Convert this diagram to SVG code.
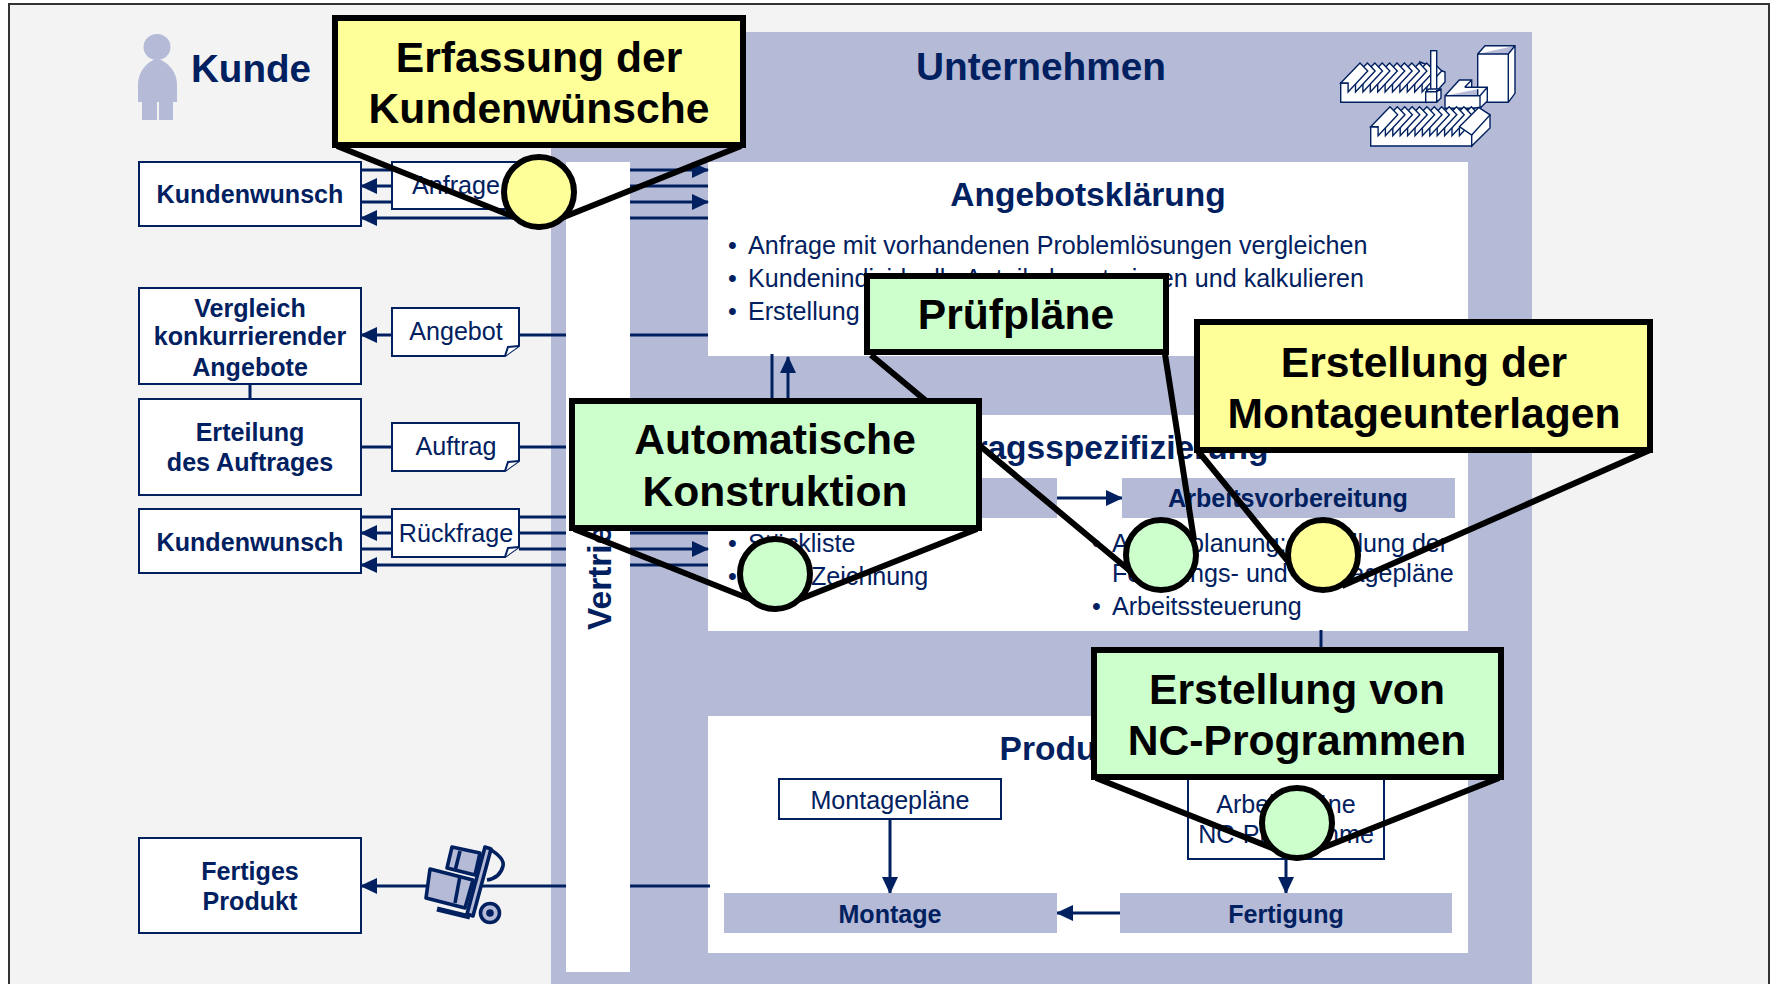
<svg xmlns="http://www.w3.org/2000/svg" width="1773" height="984" viewBox="0 0 1773 984">
<defs>
<marker id="ah" markerUnits="userSpaceOnUse" markerWidth="18" markerHeight="18" refX="16" refY="8" orient="auto"><path d="M0 0L17 8L0 16Z" fill="#002060"/></marker>
<path id="tooth" d="M0 0L19.3 -20L27 -12L7.4 9V0Z"/>
</defs>
<style>
text{font-family:"Liberation Sans",Arial,sans-serif;fill:#002060}
.b{font-weight:700}
.m{text-anchor:middle}
.t{font-size:25.1px}
.h{font-size:33.5px;font-weight:700}
.c{font-size:42.6px;font-weight:700;fill:#000;text-anchor:middle}
.box{fill:#fff;stroke:#002060;stroke-width:2}
.bar{fill:#b5bad6}
.wh{fill:#fff}
.ln{stroke:#002060;stroke-width:3;fill:none}
.ar{stroke:#002060;stroke-width:3;fill:none;marker-end:url(#ah)}
.co{stroke:#000;stroke-width:6;fill:none}
.y{fill:#ffff99;stroke:#000;stroke-width:6}
.g{fill:#ccffcc;stroke:#000;stroke-width:6}
.fac{fill:#fff;stroke:#002060;stroke-width:1.4}
</style>
<rect x="0" y="0" width="1773" height="984" fill="#fff"/>
<path d="M9 984V4H1769V984" fill="#f3f3f3" stroke="#333" stroke-width="2"/>
<g id="panel">
<rect class="bar" x="551" y="32" width="981" height="952"/>
<rect class="wh" x="566" y="162" width="64" height="810"/>
<rect class="wh" x="708" y="162" width="760" height="194"/>
<rect class="wh" x="708" y="415" width="760" height="216"/>
<rect class="wh" x="708" y="716" width="760" height="237"/>
</g>
<g id="kunde-head">
<g fill="#b5bad6"><ellipse cx="157" cy="47" rx="13.5" ry="13"/><path d="M138 102V84Q139 66 157 58Q176 66 177 84V102H173V120H159V102H157V120H142V102Z"/></g>
<text class="b" x="191" y="82" font-size="38.6">Kunde</text>
<text class="b m" x="1041" y="80" font-size="38.8">Unternehmen</text>
</g>
<g id="factory" class="fac">
<path class="fac" d="M1477.7 54L1485 45.7H1515V93.3L1508.3 102.3H1477.7ZM1477.7 54H1508.3L1515 45.7M1508.3 54V102.3"/>
<path class="fac" d="M1340.7 83V102.3H1427V83Z"/>
<path class="fac" d="M1420 62L1445 72V82L1427 102V88Z"/>
<use class="fac" href="#tooth" x="1414.7" y="83"/><use class="fac" href="#tooth" x="1407.3" y="83"/><use class="fac" href="#tooth" x="1399.9" y="83"/><use class="fac" href="#tooth" x="1392.5" y="83"/><use class="fac" href="#tooth" x="1385.1" y="83"/><use class="fac" href="#tooth" x="1377.7" y="83"/><use class="fac" href="#tooth" x="1370.3" y="83"/><use class="fac" href="#tooth" x="1362.9" y="83"/><use class="fac" href="#tooth" x="1355.5" y="83"/><use class="fac" href="#tooth" x="1348.1" y="83"/><use class="fac" href="#tooth" x="1340.7" y="83"/>
<rect class="fac" x="1430.7" y="50.7" width="6" height="41"/>
<path class="fac" d="M1425.7 91.7L1429 89H1441V98L1436.7 102.3H1425.7ZM1425.7 91.7H1436.7L1441 89M1436.7 91.7V102.3"/>
<path class="fac" d="M1445 95.7L1459.3 80H1471.7V87.3H1487.3V101L1480 108.3H1445ZM1445 95.7H1480L1487.3 87.3M1480 95.7V108.3M1464.7 87.3L1471.7 80M1464.7 87.3H1471.7"/>
<path class="fac" d="M1370.7 126.7V146H1471.7V126.7Z"/>
<path class="fac" d="M1465 110L1478 107.5L1490 115V128L1471.7 146V135Z"/>
<use class="fac" href="#tooth" x="1452" y="126.7"/><use class="fac" href="#tooth" x="1444.6" y="126.7"/><use class="fac" href="#tooth" x="1437.2" y="126.7"/><use class="fac" href="#tooth" x="1429.8" y="126.7"/><use class="fac" href="#tooth" x="1422.4" y="126.7"/><use class="fac" href="#tooth" x="1415" y="126.7"/><use class="fac" href="#tooth" x="1407.6" y="126.7"/><use class="fac" href="#tooth" x="1400.2" y="126.7"/><use class="fac" href="#tooth" x="1392.8" y="126.7"/><use class="fac" href="#tooth" x="1385.4" y="126.7"/><use class="fac" href="#tooth" x="1378" y="126.7"/><use class="fac" href="#tooth" x="1370.7" y="126.7"/>
<path class="fac" d="M1459.4 126.7L1478.7 107.5L1490 115L1471.7 135Z"/>
</g>
<g id="connectors">
<path class="ln" d="M361 170H392"/>
<path class="ar" d="M630 170H708"/>
<path class="ar" d="M392 186H361"/>
<path class="ln" d="M630 186H708M361 202H392"/>
<path class="ar" d="M630 202H708"/>
<path class="ar" d="M566 218H361"/>
<path class="ln" d="M630 218H708"/>
<path class="ar" d="M392 335H361"/>
<path class="ln" d="M519 335H566M630 335H708"/>
<path class="ln" d="M250 384V398M361 447H392M519 447H566"/>
<path class="ln" d="M361 517H392M519 517H566"/>
<path class="ar" d="M392 533H361"/>
<path class="ln" d="M519 533H566M630 533H708M361 549H392M519 549H566"/>
<path class="ar" d="M630 549H708"/>
<path class="ar" d="M566 565H361"/>
<path class="ln" d="M630 565H708"/>
<path class="ln" d="M772 354V415"/>
<path class="ar" d="M788 415V357"/>
<path class="ar" d="M1056 498H1122"/>
<path class="ln" d="M1321 630V716"/>
<path class="ar" d="M890 819V893"/>
<path class="ar" d="M1286 859V893"/>
<path class="ar" d="M1120 913H1057"/>
<path class="ar" d="M566 886H361"/>
<path class="ln" d="M630 886H710"/>
</g>
<g id="kundenwunsch1"><rect class="box" x="139" y="162" width="222" height="64"/><text class="b m t" x="250" y="203">Kundenwunsch</text></g>
<g id="vergleich"><rect class="box" x="139" y="288" width="222" height="96"/><text class="b m t" x="250" y="317">Vergleich</text><text class="b m t" x="250" y="345">konkurrierender</text><text class="b m t" x="250" y="376">Angebote</text></g>
<g id="erteilung"><rect class="box" x="139" y="399" width="222" height="96"/><text class="b m t" x="250" y="441">Erteilung</text><text class="b m t" x="250" y="471">des Auftrages</text></g>
<g id="kundenwunsch2"><rect class="box" x="139" y="509" width="222" height="64"/><text class="b m t" x="250" y="551">Kundenwunsch</text></g>
<g id="fertiges"><rect class="box" x="139" y="838" width="222" height="95"/><text class="b m t" x="250" y="880">Fertiges</text><text class="b m t" x="250" y="910">Produkt</text></g>
<g id="anfrage"><path class="box" d="M392 162H519V209H392Z"/><text class="m t" x="456" y="194">Anfrage</text></g>
<g id="angebot"><path class="box" d="M392 308H519V346L505 356H392Z"/><path class="box" d="M505 356L508 347L519 346"/><text class="m t" x="456" y="340">Angebot</text></g>
<g id="auftrag"><path class="box" d="M392 423H519V461L505 471H392Z"/><path class="box" d="M505 471L508 462L519 461"/><text class="m t" x="456" y="455">Auftrag</text></g>
<g id="rueckfrage"><path class="box" d="M392 509H519V547L505 557H392Z"/><path class="box" d="M505 557L508 548L519 547"/><text class="m t" x="456" y="542">Rückfrage</text></g>
<g id="truck" stroke="#002060" stroke-width="3.6" fill="#b5bad6" stroke-linejoin="round">
<path d="M452 847L480 853L475 875L447 868Z"/>
<path d="M430 869L473 880L465 908L426 898Z"/>
<path d="M460 851L455 871M460 876L455 903" fill="none"/>
<path d="M488 848Q505 858 503 866Q500 878 487 880" fill="none"/>
<path d="M485 847L491 849L473 916L467 914Z"/>
<path d="M437 909L470 917" fill="none" stroke-width="5"/>
<circle cx="490" cy="913" r="9.5"/>
<circle cx="490" cy="913" r="2" fill="#002060"/>
</g>
<g id="vertrieb"><text class="h" transform="translate(611 630) rotate(-90)">Vertrieb</text></g>
<g id="angebotsklaerung">
<text class="h m" x="1088" y="206">Angebotsklärung</text>
<text class="t" x="728" y="254">•</text><text class="t" x="748" y="254">Anfrage mit vorhandenen Problemlösungen vergleichen</text>
<text class="t" x="728" y="287">•</text><text class="t" x="748" y="287" textLength="616">Kundenindividuelle Anteile konstruieren und kalkulieren</text>
<text class="t" x="728" y="320">•</text><text class="t" x="748" y="320">Erstellung</text>
</g>
<g id="auftragsspezifizierung">
<text class="h m" x="1088" y="459">Auftragsspezifizierung</text>
<rect class="bar" x="724" y="478" width="333" height="40"/>
<rect class="bar" x="1122" y="478" width="333" height="40"/>
<text class="b m t" x="1288" y="507">Arbeitsvorbereitung</text>
<text class="t" x="728" y="552">•</text><text class="t" x="748" y="552">Stückliste</text>
<text class="t" x="728" y="585">•</text><text class="t" x="811" y="585">Zeichnung</text>
<text class="t" x="1092" y="552">•</text><text class="t" x="1112" y="552">Arbeitsplanung: Erstellung der</text>
<text class="t" x="1112" y="582">Fertigungs- und Montagepläne</text>
<text class="t" x="1092" y="615">•</text><text class="t" x="1112" y="615">Arbeitssteuerung</text>
</g>
<g id="produktion">
<text class="h m" x="1088" y="760">Produktion</text>
<rect class="box" x="779" y="779" width="222" height="40"/><text class="m t" x="890" y="809">Montagepläne</text>
<rect class="box" x="1188" y="770" width="196" height="89"/><text class="m t" x="1286" y="813">Arbeitspläne</text><text class="m t" x="1286" y="843">NC-Programme</text>
<rect class="bar" x="724" y="893" width="333" height="40"/><text class="b m t" x="890" y="923">Montage</text>
<rect class="bar" x="1120" y="893" width="332" height="40"/><text class="b m t" x="1286" y="923">Fertigung</text>
</g>
<g id="callout-erfassung">
<path class="co" d="M337 146L539 227M741 146L539 227"/><circle class="y" cx="539" cy="192" r="35"/>
<rect class="y" x="335" y="18" width="408" height="127"/>
<text class="c" x="539" y="72">Erfassung der</text><text class="c" x="539" y="123">Kundenwünsche</text>
</g>
<g id="callout-pruefplaene">
<path class="co" d="M871 355L1135 575M1165 354L1194 540"/><circle class="g" cx="1161" cy="555" r="35"/>
<rect class="g" x="867" y="276" width="299" height="76"/>
<text class="c" x="1016" y="329">Prüfpläne</text>
</g>
<g id="callout-konstruktion">
<path class="co" d="M574 529L775 609M977 529L775 609"/><circle class="g" cx="775" cy="574" r="35"/>
<rect class="g" x="572" y="401" width="407" height="127"/>
<text class="c" x="775" y="454">Automatische</text><text class="c" x="775" y="506">Konstruktion</text>
</g>
<g id="callout-montage">
<path class="co" d="M1198 451L1300 576M1650 450L1342 586"/><circle class="y" cx="1323" cy="555" r="35"/>
<rect class="y" x="1197" y="322" width="453" height="128"/>
<text class="c" x="1424" y="377">Erstellung der</text><text class="c" x="1424" y="428">Montageunterlagen</text>
</g>
<g id="callout-nc">
<path class="co" d="M1096 778L1297 858M1499 778L1297 858"/><circle class="g" cx="1297" cy="823" r="35"/>
<rect class="g" x="1094" y="650" width="407" height="127"/>
<text class="c" x="1297" y="704">Erstellung von</text><text class="c" x="1297" y="755">NC-Programmen</text>
</g>
</svg>
